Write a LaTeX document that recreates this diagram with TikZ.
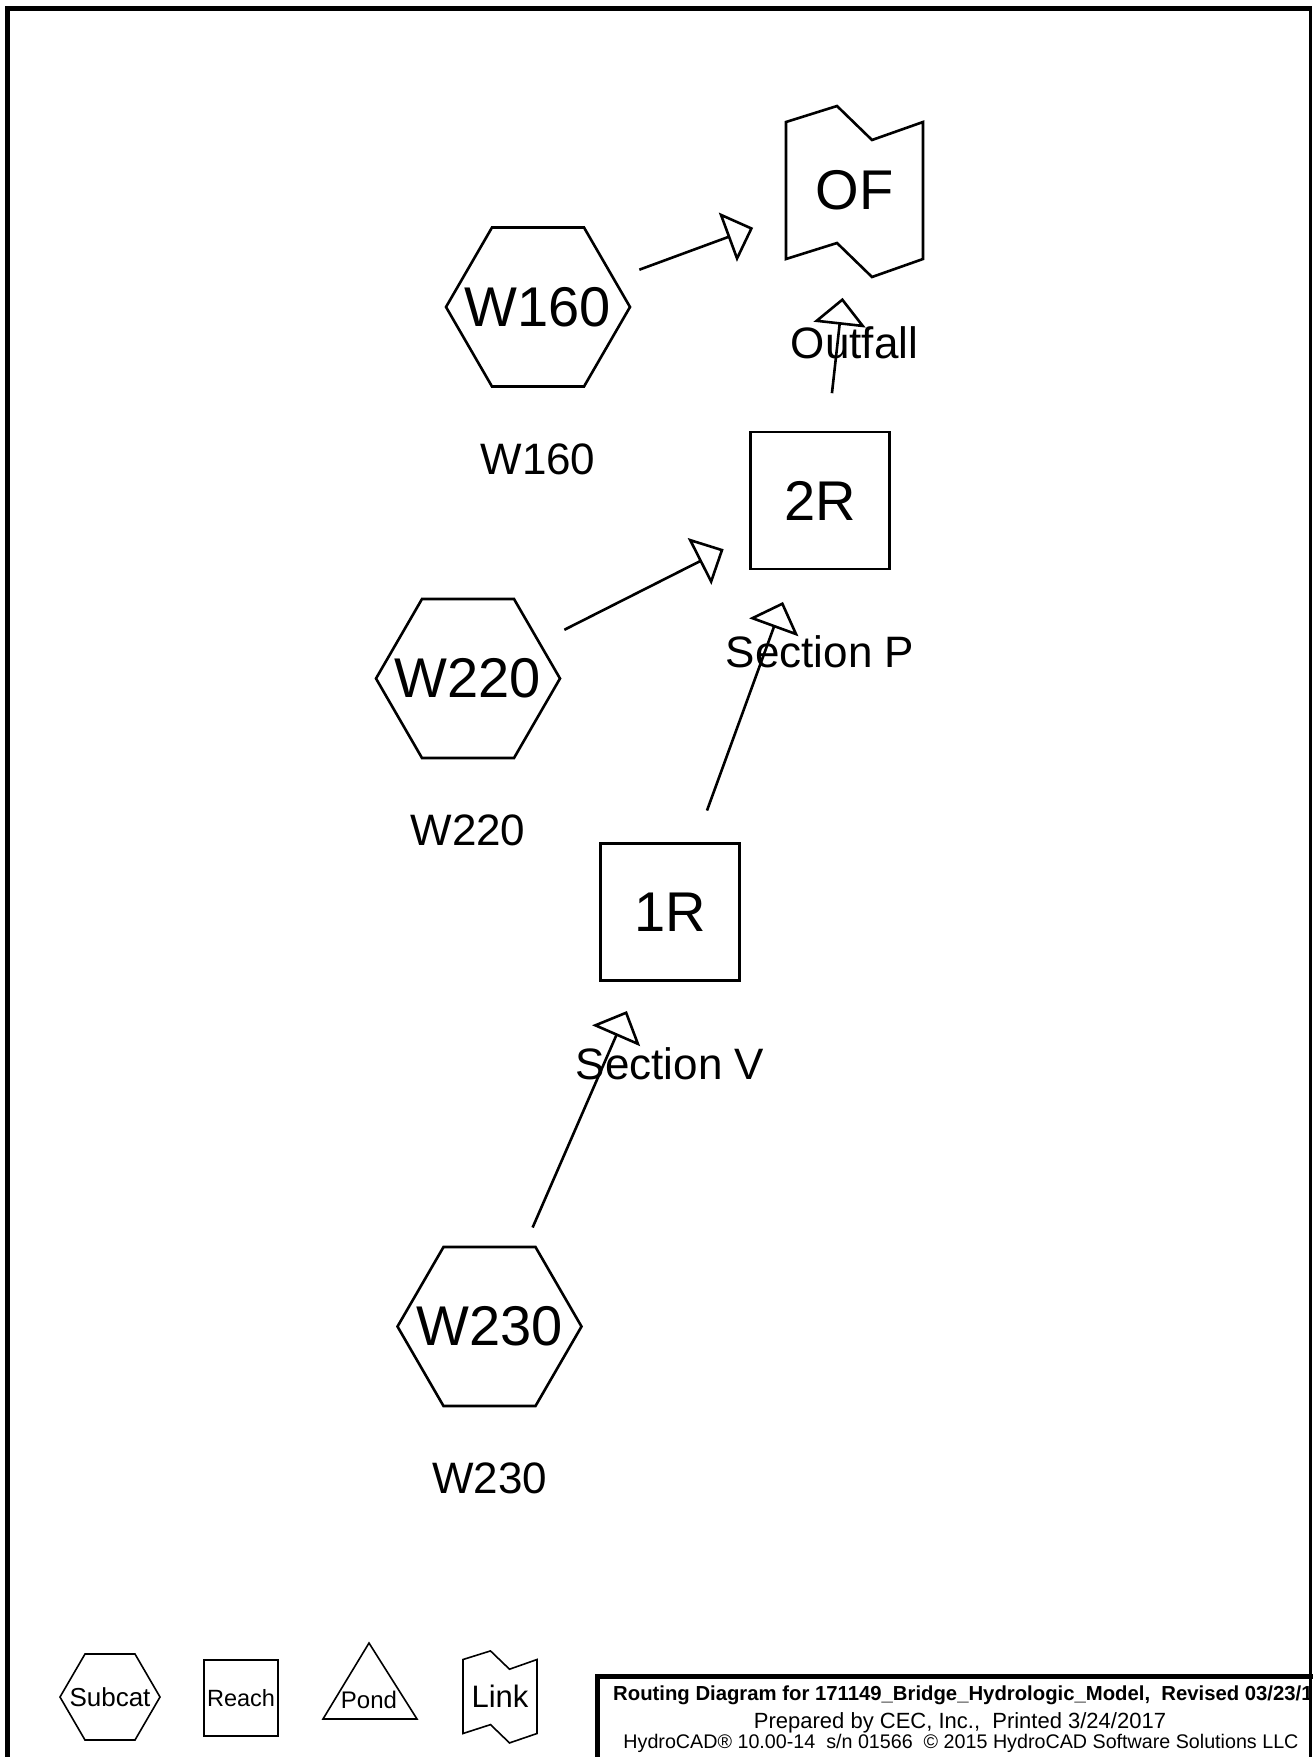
\documentclass[tikz,border=0pt]{standalone}
\usepackage{fontspec}
\setmainfont{Liberation Sans}
\usetikzlibrary{arrows.meta}
\begin{document}
\begin{tikzpicture}[x=1pt,y=-1pt,
  bigfont/.style={font=\fontsize{56}{60}\selectfont},
  hexnode/.style={rectangle,minimum width=184pt,minimum height=159pt,inner sep=0pt,bigfont},
  reachnode/.style={draw,line width=2.6pt,rectangle,minimum width=139pt,minimum height=137pt,inner sep=0pt,bigfont},
  linknode/.style={rectangle,minimum width=137pt,minimum height=137pt,inner sep=0pt,bigfont},
  shapeline/.style={line width=2.6pt,line join=miter},
  lbl/.style={font=\fontsize{44}{48}\selectfont,inner sep=0pt},
  flow/.style={line width=2.6pt,line join=miter,-{Triangle[open,length=27pt,width=52pt]},shorten <=108pt,shorten >=108pt},
  legline/.style={line width=1.6pt,line join=miter},
]
\path[use as bounding box] (0,0) rectangle (1313,1757);
\clip (0,0) rectangle (1313,1757);
\fill[white] (0,0) rectangle (1313,1757);

% frame
\draw[line width=5pt] (7,1800) -- (7,8) -- (1312,8);
\draw[line width=3pt] (1310,8) -- (1310,1800);

% main nodes
\node[linknode] (OF) at (854.5,190.5) {OF};
\draw[shapeline,shift={(OF.center)}]
  (-68.5,-68.5) -- (-17.5,-84.5) -- (17.5,-50.5) -- (68.5,-68.5) --
  (68.5,68.5) -- (17.5,86.5) -- (-17.5,52.5) -- (-68.5,68.5) -- cycle;
\node[hexnode] (W160) at (538,307) {W160};
\node[reachnode] (R2) at (820,500.5) {2R};
\node[hexnode] (W220) at (468,678.5) {W220};
\node[reachnode] (R1) at (670,912) {1R};
\node[hexnode] (W230) at (489.5,1326.5) {W230};
\foreach \h in {W160,W220,W230}{
  \draw[shapeline,shift={(\h.center)}]
    (-92,0) -- (-46,-79.5) -- (46,-79.5) -- (92,0) -- (46,79.5) -- (-46,79.5) -- cycle;
}

% labels
\node[lbl] (lOF) at (854.5,342.5) {Outfall};
\node[lbl] (lW160) at (538,459) {W160};
\node[lbl] (lR2) at (820,652) {Section P};
\node[lbl] (lW220) at (468,830) {W220};
\node[lbl] (lR1) at (670,1063.5) {Section V};
\node[lbl] (lW230) at (489.5,1478) {W230};

% connectors
\draw[flow] (W160.center) -- (OF.center);
\draw[flow] (R2.center) -- (OF.center);
\draw[flow] (W220.center) -- (R2.center);
\draw[flow] (R1.center) -- (R2.center);
\draw[flow] (W230.center) -- (R1.center);

% legend
\node[inner sep=0pt,font=\fontsize{26}{28}\selectfont] (legSub) at (110,1697) {Subcat};
\draw[legline,shift={(legSub.center)}]
  (-50,0) -- (-25,-43) -- (25,-43) -- (50,0) -- (25,43) -- (-25,43) -- cycle;
\node[legline,draw,rectangle,minimum width=74pt,minimum height=76pt,inner sep=0pt,font=\fontsize{23.5}{26}\selectfont] (legReach) at (241,1698) {Reach};
\node[inner sep=0pt,font=\fontsize{24}{26}\selectfont] (legPond) at (369,1700) {Pond};
\draw[legline,shift={(legPond.center)}] (0,-57) -- (48,19) -- (-46,19) -- cycle;
\node[inner sep=0pt,font=\fontsize{31}{34}\selectfont] (legLink) at (500,1696.5) {Link};
\draw[legline,shift={(legLink.center)}]
  (-37,-37) -- (-9.5,-45.6) -- (9.5,-27.3) -- (37,-37) --
  (37,37) -- (9.5,46.4) -- (-9.5,28.1) -- (-37,37) -- cycle;

% title block
\draw[line width=5pt] (597,1800) -- (597,1676) -- (1330,1676);
\node[anchor=base west,inner sep=0pt,font=\bfseries\fontsize{20.3}{22}\selectfont] (title1) at (613,1700) {Routing Diagram for 171149\_Bridge\_Hydrologic\_Model,\ \ Revised 03/23/17};
\node[anchor=base,inner sep=0pt,font=\fontsize{22}{24}\selectfont] (title2) at (960,1728) {Prepared by CEC, Inc.,\ \ Printed 3/24/2017};
\node[anchor=base,inner sep=0pt,font=\fontsize{19.7}{22}\selectfont] (title3) at (961,1748) {HydroCAD® 10.00-14\ \ s/n 01566\ \ © 2015 HydroCAD Software Solutions LLC};
\end{tikzpicture}
\end{document}
